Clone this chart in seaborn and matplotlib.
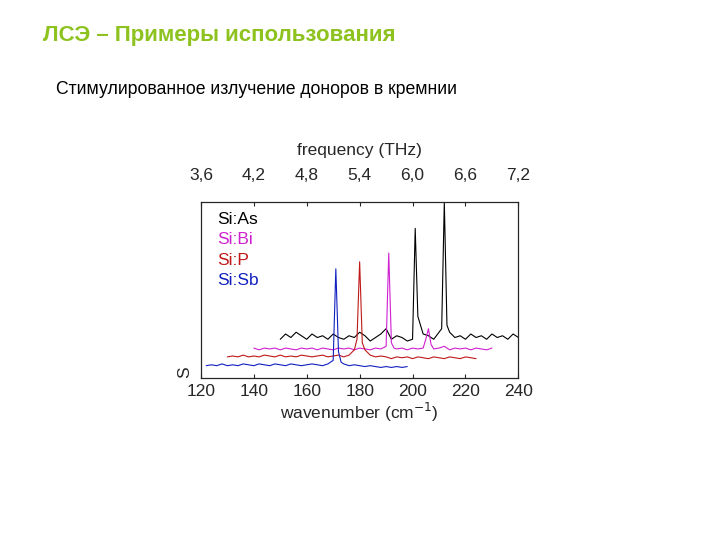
import numpy as np
import matplotlib
matplotlib.use("Agg")
import matplotlib.pyplot as plt
import seaborn as sns

sns.set_style("white")
plt.rcParams['font.family'] = ['Liberation Sans', 'DejaVu Sans']

# Si:As (black)
as_x = [150,152,154,156,158,160,162,164,166,168,
        170,172,174,176,178,180,182,184,186,188,
        190,192,194,196,198,200,201,202,203,204,
        206,208,210,211,212,213,214,216,218,220,
        222,224,226,228,230,232,234,236,238,240]
as_y = [0.22,0.25,0.23,0.26,0.24,0.22,0.25,0.23,0.24,0.22,
        0.25,0.23,0.22,0.24,0.23,0.26,0.24,0.21,0.23,0.25,
        0.28,0.22,0.24,0.23,0.21,0.22,0.85,0.35,0.30,0.25,
        0.24,0.22,0.26,0.28,1.00,0.30,0.26,0.23,0.24,0.22,
        0.25,0.23,0.24,0.22,0.25,0.23,0.24,0.22,0.25,0.23]
# Si:Bi (magenta)
bi_x = [140,142,144,146,148,150,152,154,156,158,
        160,162,164,166,168,170,172,174,176,178,
        180,182,184,186,188,190,191,192,193,194,
        196,198,200,202,204,205,206,207,208,210,
        212,214,216,218,220,222,224,226,228,230]
bi_y = [0.17,0.16,0.17,0.165,0.17,0.16,0.17,0.165,0.16,0.17,
        0.165,0.17,0.16,0.17,0.165,0.16,0.17,0.165,0.17,0.16,
        0.17,0.165,0.16,0.17,0.165,0.18,0.71,0.20,0.17,0.165,
        0.17,0.16,0.17,0.165,0.17,0.22,0.28,0.19,0.165,0.17,
        0.18,0.16,0.17,0.165,0.17,0.16,0.17,0.165,0.16,0.17]
# Si:P (red)
p_x = [130,132,134,136,138,140,142,144,146,148,
       150,152,154,156,158,160,162,164,166,168,
       170,172,174,176,178,179,180,181,182,184,
       186,188,190,192,194,196,198,200,202,204,
       206,208,210,212,214,216,218,220,222,224]
p_y = [0.12,0.125,0.12,0.13,0.12,0.125,0.12,0.13,0.125,0.12,
       0.13,0.12,0.125,0.12,0.13,0.125,0.12,0.125,0.13,0.12,
       0.125,0.13,0.12,0.13,0.16,0.22,0.66,0.20,0.16,0.13,
       0.12,0.125,0.12,0.11,0.12,0.115,0.12,0.11,0.12,0.115,
       0.11,0.12,0.115,0.11,0.12,0.115,0.11,0.12,0.115,0.11]
# Si:Sb (blue)
sb_x = [122,124,126,128,130,132,134,136,138,140,
        142,144,146,148,150,152,154,156,158,160,
        162,164,166,168,170,171,172,173,174,176,
        178,180,182,184,186,188,190,192,194,196,198]
sb_y = [0.07,0.075,0.07,0.08,0.07,0.075,0.07,0.08,0.075,0.07,
        0.08,0.075,0.07,0.08,0.075,0.07,0.08,0.075,0.07,0.075,
        0.08,0.075,0.07,0.08,0.10,0.62,0.15,0.09,0.08,0.07,
        0.075,0.07,0.065,0.07,0.065,0.06,0.065,0.06,0.065,0.06,0.065]

series = [("Si:As", as_x, as_y, "black"),
          ("Si:Bi", bi_x, bi_y, "#d020d0"),
          ("Si:P", p_x, p_y, "#c01818"),
          ("Si:Sb", sb_x, sb_y, "#1020c0")]
freq_ticks = ["3,6", "4,2", "4,8", "5,4", "6,0", "6,6", "7,2"]
wn_ticks = [120, 140, 160, 180, 200, 220, 240]

fig = plt.figure(figsize=(7.2, 5.4), dpi=100)
fig.text(0.060, 0.935, "ЛСЭ – Примеры использования", color="#8dc21f",
         fontsize=16, fontweight="bold", ha="left", va="center")
fig.text(0.078, 0.835, "Стимулированное излучение доноров в кремнии",
         color="black", fontsize=12.7, ha="left", va="center")

ax = fig.add_axes([0.279, 0.300, 0.441, 0.326])
for name, x, y, c in series:
    sns.lineplot(x=x, y=y, ax=ax, color=c, lw=0.8, sort=False, estimator=None)
ax.set_xlim(120, 240)
ax.set_ylim(0, 1.0)
ax.set_xticks(wn_ticks)
ax.set_xticklabels([str(t) for t in wn_ticks], fontsize=12.5)
ax.set_yticks([])
ax.set_xlabel("wavenumber (cm$^{-1}$)", fontsize=12.5, labelpad=2)
ax.set_ylabel("S", fontsize=12.5, labelpad=6, loc="bottom")
ax.tick_params(axis="x", direction="in", length=3, pad=4)
for s in ax.spines.values():
    s.set_linewidth(0.8)
    s.set_color("black")

top = ax.twiny()
top.set_xlim(120, 240)
top.set_xticks(wn_ticks)
top.set_xticklabels(freq_ticks, fontsize=12.5)
top.set_xlabel("frequency (THz)", fontsize=12.5, labelpad=9)
top.tick_params(axis="x", direction="in", length=3, pad=14)

for i, (name, x, y, c) in enumerate(series):
    ax.text(0.05, 0.90 - i * 0.115, name, color=c, fontsize=12.5,
            transform=ax.transAxes, ha="left", va="center")

fig.savefig("out.png", dpi=100)
